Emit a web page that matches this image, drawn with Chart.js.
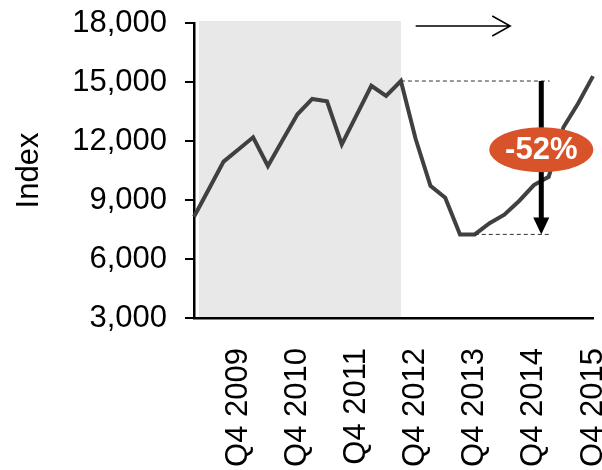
<!DOCTYPE html>
<html>
<head>
<meta charset="utf-8">
<script src="https://cdn.jsdelivr.net/npm/chart.js@4/dist/chart.umd.min.js"></script>
<style>
  html, body { margin: 0; padding: 0; background: #fff; }
  #wrap { width: 602px; height: 470px; position: relative; }
</style>
</head>
<body>
<div id="wrap"><canvas id="index_chart"></canvas></div>
<script>
// Quarterly index values
var quarters = [
    'Q1 2009', 'Q2 2009', 'Q3 2009', 'Q4 2009',
    'Q1 2010', 'Q2 2010', 'Q3 2010', 'Q4 2010',
    'Q1 2011', 'Q2 2011', 'Q3 2011', 'Q4 2011',
    'Q1 2012', 'Q2 2012', 'Q3 2012', 'Q4 2012',
    'Q1 2013', 'Q2 2013', 'Q3 2013', 'Q4 2013',
    'Q1 2014', 'Q2 2014', 'Q3 2014', 'Q4 2014',
    'Q1 2015', 'Q2 2015', 'Q3 2015', 'Q4 2015'
];
var indexValues = [
    8150, 9550, 10950, 11570,
    12190, 10730, 12050, 13360,
    14140, 14020, 11830, 13320,
    14810, 14290, 15050, 12100,
    9720, 9120, 7250, 7250,
    7820, 8250, 8950, 9760,
    10180, 12700, 13920, 15300
];
var yTicks = [3000, 6000, 9000, 12000, 15000, 18000];
var shadedFrom = 'Q1 2009';
var shadedTo = 'Q3 2012';
var peakQuarter = 'Q3 2012';
var troughQuarter = 'Q3 2013';

var FONT = '"Liberation Sans", Arial, sans-serif';

var peakIdx = quarters.indexOf(peakQuarter);
var troughIdx = quarters.indexOf(troughQuarter);
var peakVal = indexValues[peakIdx];
var troughVal = indexValues[troughIdx];
var dropPct = Math.round((troughVal / peakVal - 1) * 100);

// shaded period, drawn under everything
var shadePlugin = {
    id: 'shade',
    beforeDraw: function (chart) {
        var ctx = chart.ctx, area = chart.chartArea, x = chart.scales.x;
        var x0 = x.getPixelForValue(quarters.indexOf(shadedFrom)) + 5;
        var x1 = x.getPixelForValue(quarters.indexOf(shadedTo));
        ctx.save();
        ctx.fillStyle = '#E8E8E8';
        ctx.fillRect(x0, area.top - 2, x1 - x0, area.bottom - area.top + 1);
        ctx.restore();
    }
};

// peak-to-trough markers, arrows and the drop badge
var dropPlugin = {
    id: 'drop',
    afterDatasetsDraw: function (chart) {
        var ctx = chart.ctx, area = chart.chartArea;
        var x = chart.scales.x, y = chart.scales.y;
        var yPeak = y.getPixelForValue(peakVal);
        var yTrough = y.getPixelForValue(troughVal);
        var xPeak = x.getPixelForValue(peakIdx);
        var xTrough = x.getPixelForValue(troughIdx + 1);
        var xEnd = x.getPixelForValue(24) + 1;
        var xArrow = x.getPixelForValue(23.5);

        ctx.save();
        // dashed guides
        ctx.strokeStyle = '#333';
        ctx.lineWidth = 1;
        ctx.setLineDash([4, 3]);
        ctx.beginPath();
        ctx.moveTo(xPeak, yPeak); ctx.lineTo(xEnd, yPeak);
        ctx.moveTo(xTrough, yTrough); ctx.lineTo(xEnd, yTrough);
        ctx.stroke();
        ctx.setLineDash([]);

        // downward arrow
        ctx.strokeStyle = '#000';
        ctx.fillStyle = '#000';
        ctx.lineWidth = 5;
        ctx.beginPath();
        ctx.moveTo(xArrow, yPeak);
        ctx.lineTo(xArrow, yTrough - 16);
        ctx.stroke();
        ctx.beginPath();
        ctx.moveTo(xArrow - 8, yTrough - 17);
        ctx.lineTo(xArrow + 8, yTrough - 17);
        ctx.lineTo(xArrow, yTrough);
        ctx.closePath();
        ctx.fill();

        // badge
        var cy = (yPeak + yTrough) / 2 - 8;
        ctx.fillStyle = '#D8522A';
        ctx.beginPath();
        ctx.ellipse(xArrow, cy, 52, 22.5, 0, 0, Math.PI * 2);
        ctx.fill();
        ctx.fillStyle = '#fff';
        ctx.font = 'bold 31px ' + FONT;
        ctx.textAlign = 'center';
        ctx.textBaseline = 'middle';
        ctx.fillText(dropPct + '%', xArrow, cy + 1);

        // forward arrow across the top
        var ya = area.top + 3;
        var xa0 = x.getPixelForValue(peakIdx + 1);
        var xa1 = x.getPixelForValue(21.4);
        ctx.lineWidth = 1.5;
        ctx.beginPath();
        ctx.moveTo(xa0, ya); ctx.lineTo(xa1, ya);
        ctx.moveTo(xa1 - 18, ya - 10); ctx.lineTo(xa1, ya); ctx.lineTo(xa1 - 18, ya + 10);
        ctx.stroke();
        ctx.restore();
    }
};

new Chart(document.getElementById('index_chart'), {
    type: 'line',
    data: {
        labels: quarters,
        datasets: [{
            label: 'Index',
            data: indexValues,
            borderColor: '#404040',
            borderWidth: 4,
            pointRadius: 0,
            tension: 0,
            fill: false
        }]
    },
    options: {
        responsive: true,
        maintainAspectRatio: false,
        animation: false,
        layout: { padding: { top: 23, right: 9, left: 0, bottom: 0 } },
        plugins: {
            legend: { display: false },
            tooltip: { enabled: false }
        },
        scales: {
            x: {
                offset: false,
                grid: { display: false, drawTicks: false },
                border: { display: true, color: '#000', width: 2.5 },
                ticks: {
                    autoSkip: false,
                    maxRotation: 90,
                    minRotation: 90,
                    padding: 30,
                    color: '#000',
                    font: { family: FONT, size: 31 },
                    callback: function (v, i) {
                        var lbl = quarters[i];
                        return lbl.indexOf('Q4') === 0 ? lbl : '';
                    }
                },
                afterFit: function (scale) {
                    scale.height = 152;
                    scale.paddingRight = 0;
                    scale.paddingLeft = 0;
                }
            },
            y: {
                min: yTicks[0],
                max: yTicks[yTicks.length - 1],
                afterBuildTicks: function (scale) {
                    scale.ticks = yTicks.map(function (v) { return { value: v }; });
                },
                grid: {
                    drawOnChartArea: false,
                    drawTicks: true,
                    tickLength: 9,
                    color: '#000',
                    lineWidth: 2
                },
                border: { display: true, color: '#000', width: 2.5 },
                ticks: {
                    padding: 18,
                    color: '#000',
                    font: { family: FONT, size: 31 },
                    callback: function (v) { return v.toLocaleString('en-US'); }
                },
                title: {
                    display: true,
                    text: 'Index',
                    color: '#000',
                    font: { family: FONT, size: 31 },
                    padding: { top: 11, bottom: 0 }
                },
                afterFit: function (scale) {
                    scale.width = 194;
                    scale.paddingTop = 0;
                    scale.paddingBottom = 0;
                }
            }
        }
    },
    plugins: [shadePlugin, dropPlugin]
});
</script>
</body>
</html>
